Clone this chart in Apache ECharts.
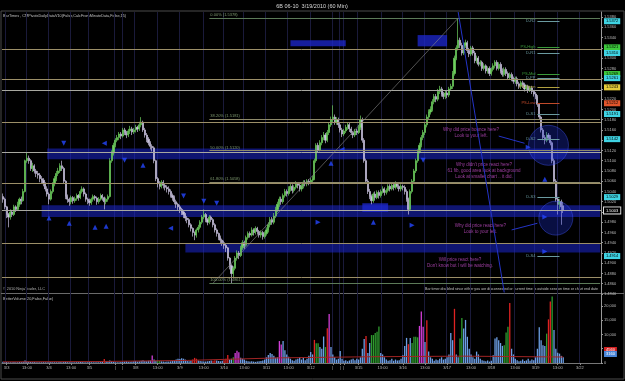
<!DOCTYPE html>
<html>
<head>
<meta charset="utf-8">
<script src="https://cdn.jsdelivr.net/npm/echarts@6/dist/echarts.min.js"></script>
<style>
html, body { margin: 0; padding: 0; background: #000; }
#chart { width: 625px; height: 381px; }
</style>
</head>
<body>
<div id="chart"></div>
<script>
// prices are stored as pips above 1.4800, each bar is [open, close, low, high]
const priceBase = 1.48
const bars = [
  [230,225,218,236],[225,210,205,228],[210,195,188,212],[195,190,170,198],[190,200,185,205],
  [200,195,190,204],[195,210,192,214],[210,205,200,213],[205,215,202,220],[215,225,210,228],
  [225,222,215,230],[222,240,220,245],[240,300,238,302],[300,305,296,315],[305,300,294,310],
  [300,285,280,303],[285,290,278,296],[290,280,275,293],[280,275,268,284],[275,272,265,280],
  [272,265,258,276],[265,262,255,270],[262,255,250,266],[255,245,240,258],[245,235,230,250],
  [235,225,215,238],[225,240,222,244],[240,255,236,258],[255,265,250,270],[265,275,260,280],
  [275,280,270,286],[280,290,276,295],[290,285,280,300],[285,260,256,288],[260,230,225,262],
  [230,225,218,234],[225,220,212,228],[220,228,215,232],[228,222,216,231],[222,226,218,230],
  [226,232,222,236],[232,228,222,235],[228,240,225,244],[240,245,236,250],[245,235,230,248],
  [235,225,220,238],[225,222,215,228],[222,218,212,226],[218,225,214,228],[225,230,220,234],
  [230,227,222,233],[227,220,214,230],[220,225,216,229],[225,232,222,236],[232,228,222,235],
  [228,220,205,230],[220,225,215,228],[225,230,220,234],[230,300,228,305],[300,315,296,320],
  [315,330,310,335],[330,340,326,344],[340,345,336,350],[345,352,340,356],[352,348,342,356],
  [348,360,345,364],[360,355,350,364],[355,350,344,358],[350,358,346,362],[358,362,352,368],
  [362,356,350,366],[356,360,352,364],[360,365,355,370],[365,362,356,368],[362,370,358,376],
  [370,375,365,385],[375,360,356,378],[360,350,345,364],[350,342,336,354],[342,335,330,346],
  [335,328,322,338],[328,325,318,332],[325,300,295,328],[300,265,260,302],[265,255,248,268],
  [255,250,244,260],[250,258,246,262],[258,252,246,262],[252,248,242,256],[248,245,238,252],
  [245,240,234,250],[240,232,228,244],[232,228,222,236],[228,220,215,232],[220,215,208,224],
  [215,210,204,218],[210,205,198,214],[205,200,194,208],[200,195,188,204],[195,188,182,198],
  [188,185,178,192],[185,175,170,188],[175,168,162,178],[168,160,152,170],[160,155,145,162],
  [155,165,150,168],[165,170,160,175],[170,180,166,184],[180,190,176,194],[190,195,186,205],
  [195,185,180,198],[185,180,174,188],[180,190,176,194],[190,185,180,193],[185,175,170,188],
  [175,165,160,178],[165,158,152,168],[158,150,145,160],[150,145,138,154],[145,140,134,148],
  [140,135,128,144],[135,130,122,138],[130,110,105,132],[110,95,88,112],[95,80,61,98],
  [80,90,72,94],[90,110,86,114],[110,120,105,125],[120,115,108,124],[115,130,112,134],
  [130,140,126,145],[140,135,128,144],[135,150,132,154],[150,158,146,162],[158,155,150,162],
  [155,165,152,170],[165,160,154,168],[160,168,156,172],[168,162,156,171],[162,155,150,165],
  [155,160,150,164],[160,152,146,163],[152,158,148,162],[158,165,154,170],[165,175,160,180],
  [175,185,170,190],[185,180,175,190],[180,192,176,198],[192,205,188,210],[205,215,200,220],
  [215,225,210,230],[225,220,214,230],[220,232,216,236],[232,240,228,245],[240,236,230,244],
  [236,245,232,250],[245,250,240,255],[250,242,236,254],[242,248,238,252],[248,255,244,260],
  [255,252,246,258],[252,245,240,256],[245,250,240,254],[250,258,246,262],[258,255,250,262],
  [255,260,250,264],[260,258,252,264],[258,262,254,266],[262,265,256,270],[265,300,262,304],
  [300,330,296,334],[330,320,315,335],[320,335,318,340],[335,345,330,350],[345,350,340,356],
  [350,340,334,354],[340,355,336,360],[355,370,350,375],[370,380,366,386],[380,385,375,408],
  [385,375,370,390],[375,380,370,385],[380,370,364,384],[370,360,355,374],[360,352,346,364],
  [352,358,348,362],[358,365,354,370],[365,370,360,375],[370,362,356,374],[362,355,350,366],
  [355,350,344,358],[350,358,346,362],[358,355,350,362],[355,365,352,370],[365,380,360,388],
  [380,340,335,384],[340,300,296,344],[300,260,255,304],[260,240,235,264],[240,230,225,245],
  [230,222,215,234],[222,235,218,238],[235,228,222,240],[228,238,225,242],[238,232,226,242],
  [232,240,228,244],[240,245,236,250],[245,238,232,248],[238,242,234,246],[242,250,238,254],
  [250,245,240,254],[245,252,242,256],[252,248,242,256],[248,255,244,260],[255,250,245,258],
  [250,245,240,254],[245,250,240,254],[250,248,242,253],[248,240,234,252],[240,225,220,244],
  [225,205,195,228],[205,240,202,244],[240,260,236,264],[260,280,256,284],[280,300,276,304],
  [300,318,296,322],[318,330,314,335],[330,345,326,350],[345,355,340,360],[355,370,350,375],
  [370,385,365,390],[385,395,380,400],[395,400,390,406],[400,415,396,420],[415,425,410,430],
  [425,420,414,430],[420,435,416,440],[435,440,430,446],[440,430,425,444],[430,425,420,434],
  [425,432,420,436],[432,428,422,436],[428,440,424,444],[440,445,436,450],[445,470,440,475],
  [470,500,466,505],[500,520,496,525],[520,535,515,578],[535,525,520,540],[525,510,505,530],
  [510,525,506,530],[525,530,520,536],[530,515,510,534],[515,508,502,520],[508,520,504,524],
  [520,510,505,524],[510,495,490,514],[495,500,490,505],[500,488,484,504],[488,492,484,496],
  [492,480,475,495],[480,485,476,490],[485,475,470,488],[475,480,470,484],[480,470,465,484],
  [470,478,466,482],[478,485,474,490],[485,492,480,496],[492,480,476,496],[480,488,476,492],
  [488,475,470,492],[475,468,464,480],[468,478,464,482],[478,470,465,482],[470,462,458,474],
  [462,468,458,472],[468,460,455,472],[460,455,450,464],[455,460,450,464],[460,450,445,464],
  [450,445,440,454],[445,452,440,456],[452,448,442,456],[448,440,435,452],[440,445,436,448],
  [445,438,432,448],[438,442,434,446],[442,435,430,446],[435,430,425,438],[430,425,420,434],
  [425,410,405,428],[410,385,380,412],[385,360,355,388],[360,345,340,364],[345,340,332,350],
  [340,350,336,356],[350,345,340,354],[345,335,330,350],[335,300,295,338],[300,260,255,304],
  [260,225,220,264],[225,215,195,228],[215,220,205,225],[220,210,175,224],[212,203,198,220]
]

const volumes = [
  400,300,350,250,300,280,320,260,300,350, 300,400,900,500,400,350,300,320,280,300,
  250,260,300,280,250,300,350,300,280,260, 300,320,280,350,400,300,250,280,260,300,
  280,300,350,320,300,280,260,300,280,250, 300,280,260,300,350,1400,600,500,900,700,
  400,300,250,300,350,400,500,600,400,450, 500,600,700,500,600,800,1000,700,600,800,
  900,2600,1200,800,900,700,600,500,400,500, 500,600,700,800,1200,1500,1400,1700,1500,1200,
  700,600,800,1200,1800,1500,900,700,600,500, 500,600,700,900,800,1000,900,700,600,800,
  1000,1500,2800,1200,1500,2000,3500,4300,3800,1800, 1500,1200,800,600,500,600,500,400,500,600,
  700,900,1200,2000,2800,3500,3200,2500,1800,2000, 7700,6500,7700,4500,3000,2200,1500,1000,800,1200,
  1500,2000,1200,1800,1000,1500,2500,3900,3000,8100, 6900,6900,5600,5000,9300,5600,12200,17200,5600,3000,
  2000,1200,1500,4200,1500,800,1000,600,900,1200, 1500,1000,1500,1200,2000,5000,8400,9500,3500,7000,
  9800,9800,10500,11000,12800,3500,3000,2000,1200,800, 1000,1500,800,1200,900,1000,1500,2700,6000,8800,
  6600,8800,7000,9200,9200,9000,13000,18100,12700,7400, 15000,4000,2000,1500,800,1200,1000,1500,2000,1200,
  1500,2000,3000,10500,8000,19000,3000,2000,8600,15800, 12100,15100,9200,5000,3000,2000,1500,4000,3000,1500,
  1000,800,600,900,500,800,2700,8600,9000,8000, 7000,6000,6200,10700,12700,21000,5000,3000,1500,1000,
  600,800,1200,700,900,1500,800,1200,1000,2000, 5000,12500,8000,6200,6000,10300,15300,21600,23300,11600,
  5000,3600,3300,2500,2000
]
// BetterVolume bar classes (everything else is a normal bar)
const volRed = [55,103,104,105,114,115,120,121,122,169,176,197,220,230,245,275,296,297]
const volGreen = [84,85,125,170,171,175,200,201,202,203,204,222,223,224,225,248,249,272,273,274,295,298]
const volMagenta = [81,126,127,128,150,151,177,226,227,228]
const volAvg = [[0,400],[50,500],[100,900],[150,1800],[200,2200],[250,2400],[304,2100]]
const volTags = [[4560,'red'],[3160,'blue']]

const slotCount = 325
const xTicks = [
  [2,'3/3'],[13,'13:00'],[25,'3/4'],[37,'13:00'],[47,'3/5'],[61,'|'],[65,'|'],
  [72,'3/8'],[84,'13:00'],[96,'3/9'],[109,'13:00'],[120,'3/10'],[131,'13:00'],
  [143,'3/11'],[155,'13:00'],[167,'3/12'],[179,'|'],[183,'|'],[185,'|'],
  [193,'3/15'],[206,'13:00'],[217,'3/16'],[229,'13:00'],[241,'3/17'],[254,'13:00'],
  [265,'3/18'],[278,'13:00'],[289,'3/19'],[301,'13:00'],[313,'3/22']
]

const srLevels = [1.5318, 1.5259, 1.5238, 1.5175, 1.5117, 1.5056, 1.5003, 1.4939, 1.4873]
const fibHigh = 1.5378
const fibLow = 1.4861
const fibRatios = [0, 0.382, 0.5, 0.618, 1]
const pivots = [
  ['D-R2', 1.5372, 'pivot'], ['PS-High', 1.5321, 'high'], ['D-R1', 1.5310, 'pivot'],
  ['PS-Mid', 1.5269, 'high'], ['D-PP', 1.5261, 'pivot'], ['PS-Open', 1.5243, 'mid'],
  ['PS-Low', 1.5212, 'low'], ['D-S1', 1.5191, 'pivot'], ['D-S2', 1.5142, 'pivot'],
  ['D-S3', 1.5029, 'pivot'], ['D-S4', 1.4914, 'pivot']
]
// zones: [fromBar, toBar, lowPrice, highPrice]
const zones = [
  [24, 324, 1.5103, 1.5124], [21, 324, 1.4990, 1.5013], [99, 324, 1.4921, 1.4939],
  [156, 186, 1.5323, 1.5335], [225, 241, 1.5323, 1.5345], [195, 209, 1.5000, 1.5017]
]
const trendLines = [
  [[114, 1.4861], [247, 1.5378]],
  [[247, 1.5390], [272, 1.4843]],
  [[269, 1.5148], [283, 1.5134]],
  [[276, 1.4965], [290, 1.4978]]
]
const arrows = [
  [33, 1.5134, 'd'], [55, 1.5134, 'l'], [66, 1.5101, 'd'], [76, 1.5091, 'u'], [98, 1.5031, 'd'],
  [25, 1.4988, 'u'], [36, 1.4978, 'u'], [50, 1.4970, 'u'], [56, 1.4972, 'u'], [91, 1.4968, 'l'],
  [109, 1.5021, 'd'], [116, 1.5017, 'd'], [171, 1.4980, 'r'], [201, 1.4980, 'u'], [222, 1.4974, 'r'],
  [184, 1.5122, 'l'], [178, 1.5095, 'u'], [228, 1.5101, 'd'], [285, 1.5126, 'r'], [294, 1.5064, 'u'],
  [294, 1.4990, 'r'], [294, 1.4923, 'r']
]
const circles = [[296, 1.5130], [300, 1.4988]]
const notes = [
  [254, 1.5154, 'Why did price bounce here?\nLook to your left.'],
  [261, 1.5081, "Why didn't price react here?\n61 fib, good area look at background\nLook at smaller chart .. it did."],
  [259, 1.4968, 'Why did price react here?\nLook to your left.'],
  [248, 1.4900, 'Will price react here?\nDon\'t know but I will be watching.']
]

const font = 'Liberation Sans'
const toPrice = (v) => +(priceBase + v / 10000).toFixed(4)
const candles = bars.map(([o, c, l, h]) => [toPrice(o), toPrice(c), toPrice(l), toPrice(h)])
const lastClose = candles[candles.length - 1][1]
const slots = Array.from({ length: slotCount }, (_, i) => String(i))
const tickMap = new Map(xTicks)
const isTick = (i) => tickMap.has(i)

const tagColors = { pivot: '#3fd3e3', high: '#3cc83c', mid: '#e4cc3a', low: '#e0552c' }
const pivotLineColors = { pivot: '#6a9aa0', high: '#3a9a3a', mid: '#b0a040', low: '#c04a2a' }
const hidden = { color: 'rgba(0,0,0,0)', width: 1 }

const markLines = []
srLevels.forEach((p) => {
  const bright = p === 1.5238 || p === 1.5117 || p === 1.5003
  markLines.push({ yAxis: p, lineStyle: { color: bright ? '#a8a8a0' : '#9c8f68', width: 1 }, label: { show: false } })
})
fibRatios.forEach((r) => {
  const p = +(fibHigh - r * (fibHigh - fibLow)).toFixed(4)
  markLines.push([
    {
      coord: [112, p],
      lineStyle: { color: r === 0 || r === 1 ? '#5c7a58' : '#8e8a6a', width: 1 },
      label: {
        show: true, position: 'insideStartTop', distance: 1, color: '#7f9a70',
        fontSize: 4, fontFamily: font,
        formatter: (r * 100).toFixed(2) + '% (' + p.toFixed(4) + ')'
      }
    },
    { coord: [324, p] }
  ])
})
pivots.forEach(([name, p, kind]) => {
  markLines.push([
    {
      coord: [290, p],
      lineStyle: { color: pivotLineColors[kind], width: 1 },
      label: { show: true, position: 'start', distance: 2, color: pivotLineColors[kind], fontSize: 4, fontFamily: font, formatter: name }
    },
    { coord: [302, p] }
  ])
  markLines.push({
    yAxis: p, lineStyle: hidden,
    label: {
      show: true, position: 'end', distance: 3, formatter: p.toFixed(4), color: '#000',
      backgroundColor: tagColors[kind], padding: [1, 2], fontSize: 4, fontFamily: font
    }
  })
})
markLines.push({
  yAxis: lastClose, lineStyle: hidden,
  label: {
    show: true, position: 'end', distance: 3, formatter: lastClose.toFixed(4), color: '#fff',
    backgroundColor: '#000', borderColor: '#ddd', borderWidth: 1, padding: [1, 2], fontSize: 4, fontFamily: font
  }
})
trendLines.forEach(([a, b], k) => {
  markLines.push([
    { coord: a, lineStyle: { color: k === 0 ? '#8a8a8a' : '#2434c8', width: k === 0 ? 0.6 : 1 }, label: { show: false } },
    { coord: b }
  ])
})

const markAreas = zones.map(([x1, x2, lo, hi], k) => [
  { xAxis: x1, yAxis: hi, itemStyle: { color: k >= 3 ? 'rgba(30,40,210,0.75)' : 'rgba(28,38,205,0.55)' } },
  { xAxis: x2, yAxis: lo }
])

const volColor = (i) => {
  if (volRed.includes(i)) return '#e02222'
  if (volGreen.includes(i)) return '#2f9a2f'
  if (volMagenta.includes(i)) return '#d23ed8'
  return '#6d9fe6'
}
const volAvgLine = volumes.map(() => null)
volAvg.forEach(([i, v]) => { volAvgLine[i] = v })

const rot = { u: 0, d: 180, l: 90, r: -90 }

const xAxisFor = (g) => ({
  type: 'category', gridIndex: g, data: slots, boundaryGap: true,
  axisLine: { show: g === 1, lineStyle: { color: '#777' } },
  axisTick: { show: g === 1, interval: isTick, alignWithLabel: true, length: 2, lineStyle: { color: '#888' } },
  axisLabel: {
    show: g === 1, interval: isTick, margin: 3, color: '#bbb', fontSize: 4, fontFamily: font,
    formatter: (v) => tickMap.get(Number(v)) || ''
  },
  splitLine: { show: true, interval: isTick, lineStyle: { color: '#1a1a3a', width: 1 } }
})

const chart = echarts.init(document.getElementById('chart'))
const option = {
  backgroundColor: '#000',
  animation: false,
  grid: [
    { left: 2, top: 12, width: 599, height: 282 },
    { left: 2, top: 294, width: 599, height: 69 }
  ],
  xAxis: [xAxisFor(0), xAxisFor(1)],
  yAxis: [
    {
      type: 'value', gridIndex: 0, position: 'right', min: 1.484, max: 1.539, interval: 0.002,
      axisLine: { show: true, lineStyle: { color: '#999' } },
      axisTick: { show: true, length: 2, lineStyle: { color: '#999' } },
      axisLabel: { color: '#bbb', fontSize: 4, fontFamily: font, margin: 3, showMaxLabel: false, formatter: (v) => v.toFixed(4) },
      splitLine: { show: false }
    },
    {
      type: 'value', gridIndex: 1, position: 'right', min: 0, max: 24200, interval: 5000,
      axisLine: { show: true, lineStyle: { color: '#999' } },
      axisTick: { show: true, length: 2, lineStyle: { color: '#999' } },
      axisLabel: { color: '#bbb', fontSize: 4, fontFamily: font, margin: 3, showMaxLabel: false },
      splitLine: { show: false }
    }
  ],
  series: [
    {
      type: 'candlestick', xAxisIndex: 0, yAxisIndex: 0, data: candles, barWidth: 1.6,
      itemStyle: { color: '#6fd05e', color0: '#c8c2de', borderColor: '#6fd05e', borderColor0: '#c8c2de', borderWidth: 0.7 },
      markArea: { silent: true, data: markAreas },
      markLine: { silent: true, precision: 4, symbol: ['none', 'none'], lineStyle: { type: 'solid' }, data: markLines }
    },
    {
      type: 'scatter', xAxisIndex: 0, yAxisIndex: 0, symbol: 'circle',
      itemStyle: { color: 'rgba(30,50,215,0.38)', borderColor: 'rgba(70,90,255,0.5)', borderWidth: 1 },
      data: circles.map((c, k) => ({ value: c, symbolSize: k === 0 ? 40 : 34 }))
    },
    {
      type: 'scatter', xAxisIndex: 0, yAxisIndex: 0, symbol: 'triangle', symbolSize: 5,
      itemStyle: { color: '#2446ff' },
      data: arrows.map(([i, p, d]) => ({ value: [i, p], symbolRotate: rot[d] }))
    },
    {
      type: 'scatter', xAxisIndex: 0, yAxisIndex: 0, symbolSize: 1,
      itemStyle: { color: 'transparent' },
      label: {
        show: true, position: 'inside', color: '#c24cc4', fontSize: 4.5, lineHeight: 6,
        fontFamily: font, align: 'center', formatter: (p) => p.data.text
      },
      data: notes.map(([i, p, text]) => ({ value: [i, p], text }))
    },
    {
      type: 'bar', xAxisIndex: 1, yAxisIndex: 1, barWidth: 1.3,
      data: volumes.map((v, i) => ({ value: v, itemStyle: { color: volColor(i) } })),
      markLine: {
        silent: true, precision: 0, symbol: ['none', 'none'],
        data: volTags.map(([v, kind]) => ({
          yAxis: v, lineStyle: hidden,
          label: {
            show: true, position: 'end', distance: 3, formatter: String(v),
            color: '#fff', backgroundColor: kind === 'red' ? '#d42020' : '#4a86d8',
            padding: [1, 2], fontSize: 4, fontFamily: font
          }
        }))
      }
    },
    {
      type: 'line', xAxisIndex: 1, yAxisIndex: 1, data: volAvgLine, connectNulls: true,
      symbol: 'none', lineStyle: { color: '#a02424', width: 1 }
    }
  ],
  graphic: [
    { type: 'rect', shape: { x: 1, y: 11, width: 623, height: 368 }, style: { fill: 'none', stroke: '#4a4a4a' }, silent: true },
    { type: 'line', shape: { x1: 1, y1: 293.5, x2: 624, y2: 293.5 }, style: { stroke: '#6a6a6a' }, silent: true },
    { type: 'text', x: 312, y: 3, style: { text: '6B 06-10  3/19/2010 (60 Min)', fill: '#d8d8d8', fontSize: 5.5, fontFamily: font, textAlign: 'center' } },
    { type: 'text', x: 3, y: 14, style: { text: 'BarTimes , CMPivotsDailyDataV10(False,CalcFromMinuteData,False,15)', fill: '#c0c0c0', fontSize: 3.8, fontFamily: font } },
    { type: 'text', x: 3, y: 287, style: { text: '\u00a9 2010 NinjaTrader, LLC', fill: '#b0b0b0', fontSize: 3.8, fontFamily: font } },
    { type: 'text', x: 598, y: 287, style: { text: 'Bar timer disabled since either you are disconnected or current time is outside session time or chart end date', fill: '#c0c0c0', fontSize: 3.6, fontFamily: font, textAlign: 'right' } },
    { type: 'text', x: 3, y: 297, style: { text: 'BetterVolume(20,False,False)', fill: '#c0c0c0', fontSize: 3.8, fontFamily: font } }
  ]
}
chart.setOption(option)
</script>
</body>
</html>
